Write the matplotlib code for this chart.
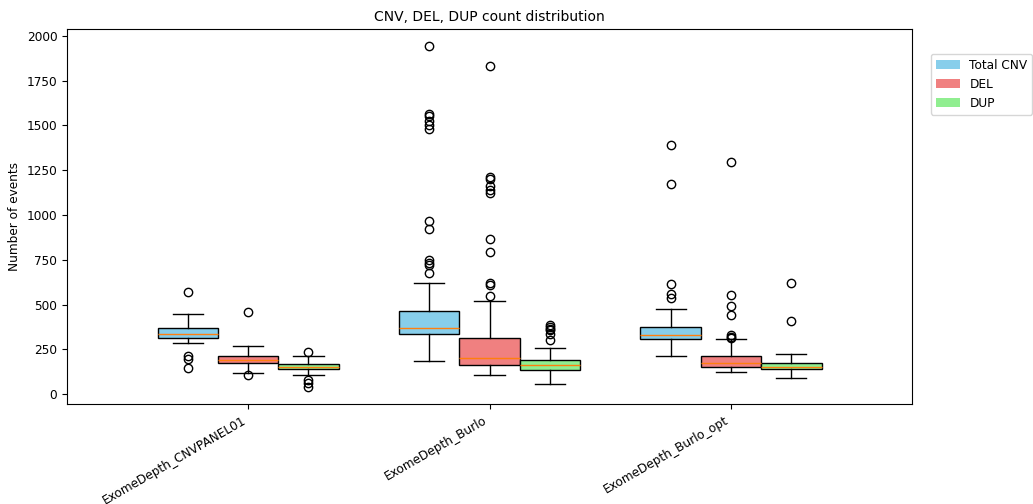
import matplotlib
matplotlib.use('Agg')
import matplotlib.pyplot as plt
from matplotlib.patches import Patch

plt.rcParams['font.size'] = 8.7

# Box statistics per caller, one list entry per caller
callers = ['ExomeDepth_CNVPANEL01', 'ExomeDepth_Burlo', 'ExomeDepth_Burlo_opt']
series = ['Total CNV', 'DEL', 'DUP']
colors = ['skyblue', 'lightcoral', 'lightgreen']

cnv_q1 = [314, 336, 308]
cnv_med = [336, 369, 330]
cnv_q3 = [369, 462, 375]
cnv_whislo = [284, 184, 213]
cnv_whishi = [447, 622, 474]
cnv_fliers = [
    [570, 212, 195, 147],
    [1943, 1565, 1550, 1526, 1502, 1482, 969, 923, 746, 733, 719, 678],
    [1389, 1174, 613, 561, 537],
]

del_q1 = [171, 162, 150]
del_med = [189, 199, 174]
del_q3 = [212, 316, 213]
del_whislo = [117, 104, 124]
del_whishi = [269, 522, 305]
del_fliers = [
    [457, 106],
    [1833, 1210, 1198, 1159, 1142, 1121, 867, 793, 622, 607, 548],
    [1294, 553, 492, 444, 332, 321, 314],
]

dup_q1 = [138, 132, 138]
dup_med = [154, 160, 154]
dup_q3 = [169, 191, 171]
dup_whislo = [104, 56, 89]
dup_whishi = [212, 258, 223]
dup_fliers = [
    [236, 78, 60, 40],
    [384, 375, 366, 357, 334, 301],
    [620, 407],
]


def make_stats(q1, med, q3, lo, hi, fliers):
    return [dict(q1=a, med=b, q3=c, whislo=d, whishi=e, fliers=f)
            for a, b, c, d, e, f in zip(q1, med, q3, lo, hi, fliers)]


all_stats = [
    make_stats(cnv_q1, cnv_med, cnv_q3, cnv_whislo, cnv_whishi, cnv_fliers),
    make_stats(del_q1, del_med, del_q3, del_whislo, del_whishi, del_fliers),
    make_stats(dup_q1, dup_med, dup_q3, dup_whislo, dup_whishi, dup_fliers),
]

fig = plt.figure(figsize=(10.33, 5.04), dpi=100)
ax = fig.add_axes([0.0649, 0.1984, 0.8180, 0.7441])

width = 0.25
base = [1, 2, 3]
for i, (stats, color) in enumerate(zip(all_stats, colors)):
    pos = [b + (i - 1) * width for b in base]
    ax.bxp(stats, positions=pos, widths=width, patch_artist=True,
           boxprops=dict(facecolor=color, edgecolor='black'),
           manage_ticks=False)

ax.set_xlim(0.25, 3.75)
ax.set_xticks(base)
ax.set_xticklabels(callers, rotation=30, ha='right')
ax.set_ylabel('Number of events')
ax.set_title('CNV, DEL, DUP count distribution', fontsize=10)

handles = [Patch(facecolor=c, label=s) for c, s in zip(colors, series)]
ax.legend(handles=handles, loc='upper left', bbox_to_anchor=(1.015, 0.95))

plt.savefig('out.png', dpi=100)
